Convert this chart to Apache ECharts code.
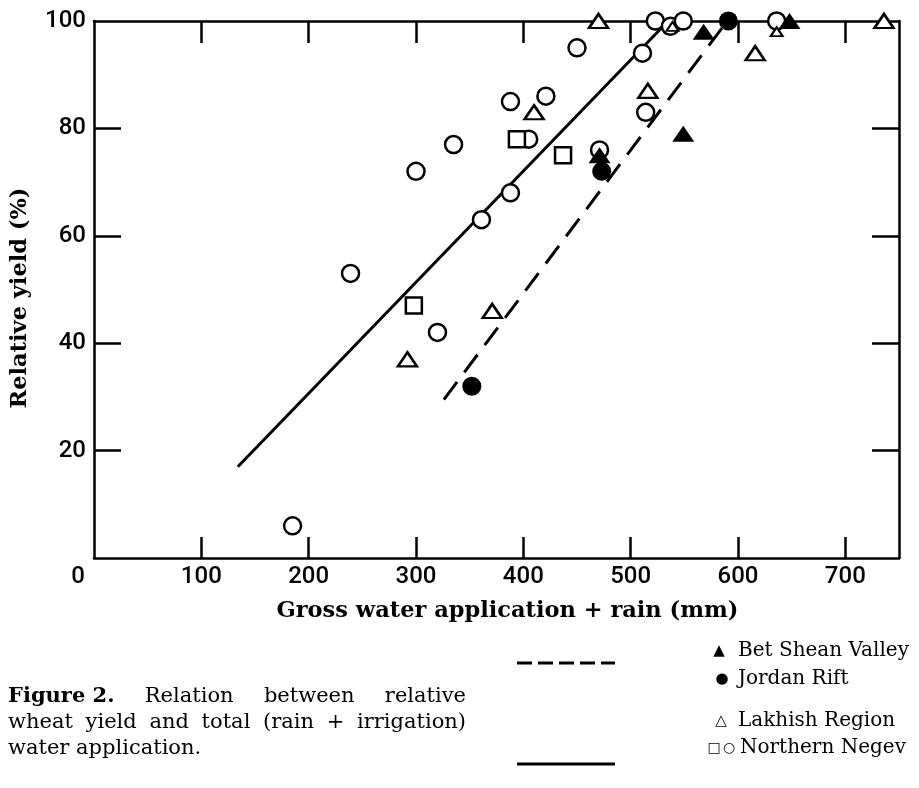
<!DOCTYPE html>
<html>
<head>
<meta charset="utf-8">
<script src="https://cdn.jsdelivr.net/npm/echarts@6/dist/echarts.min.js"></script>
<style>
    html, body { margin: 0; padding: 0; background: #fff; }
    #main { width: 919px; height: 788px; }
</style>
</head>
<body>
<div id="main"></div>
<script>
    // tick values
    var xLabels = [0, 100, 200, 300, 400, 500, 600, 700];
    var xTickVals = [100, 200, 300, 400, 500, 600, 700];
    var yLabels = [20, 40, 60, 80, 100];
    var yTickVals = [20, 40, 60, 80];

    // Bet Shean Valley (filled triangles)
    var betShean = [[471, 75], [549, 79], [568, 98], [648, 100]];
    // Jordan Rift (filled circles)
    var jordanRift = [[352, 32], [473, 72], [591, 100]];
    // Lakhish Region (open triangles)
    var lakhish = [[292, 37], [371, 46], [410, 83], [470, 100], [516, 87], [616, 94], [736, 100]];
    // small Lakhish triangles drawn inside circles
    var lakhishInner = [[539, 99], [636, 98]];
    // Northern Negev (open squares and circles)
    var negevSquares = [[298, 47], [394, 78], [437, 75]];
    var negevCircles = [[185, 6], [239, 53], [300, 72], [320, 42], [335, 77], [361, 63], [388, 68],
        [388, 85], [405, 78], [421, 86], [450, 95], [471, 76], [511, 94], [514, 83],
        [523, 100], [537, 99], [549, 100], [636, 100]];

    // regression lines
    var dashedLine = [[326, 29.5], [590, 100]];   // Bet Shean + Jordan Rift
    var solidLine = [[134, 17], [535, 100]];      // Lakhish + Northern Negev

    var black = '#000';
    var labelFont = {fontFamily: 'Roboto', fontSize: 24, fontWeight: 500, color: black};
    var capFont = '21px DejaVu Serif';

    // lay words of a justified caption line out between x0 and x1
    function justify(words, fonts, x0, x1, y) {
        var ctx = document.createElement('canvas').getContext('2d');
        var widths = words.map(function (w, i) {
            ctx.font = fonts[i];
            return ctx.measureText(w).width;
        });
        var total = widths.reduce(function (a, b) { return a + b; }, 0);
        var gap = (x1 - x0 - total) / (words.length - 1);
        var x = x0;
        return words.map(function (w, i) {
            var el = {type: 'text', style: {text: w, x: x, y: y, font: fonts[i], fill: black, textVerticalAlign: 'middle'}};
            x += widths[i] + gap;
            return el;
        });
    }

    var line1 = ['Figure 2.', 'Relation', 'between', 'relative'];
    var line2 = ['wheat', 'yield', 'and', 'total', '(rain', '+', 'irrigation)'];

    var chart = echarts.init(document.getElementById('main'));

    var axisLine = {show: true, onZero: false, lineStyle: {color: black, width: 2.5}};

    chart.setOption({
        backgroundColor: '#fff',
        animation: false,
        grid: {left: 94, right: 20, top: 21, bottom: 230},
        xAxis: [
            {
                type: 'value', position: 'bottom', min: 0, max: 750, interval: 100,
                name: 'Gross water application + rain (mm)',
                nameLocation: 'middle', nameGap: 42,
                nameTextStyle: {fontFamily: 'DejaVu Serif', fontWeight: 'bold', fontSize: 22.5, color: black, padding: [0, 0, 0, 22]},
                axisLine: axisLine,
                axisTick: {show: true, inside: true, length: 21, lineStyle: {color: black, width: 2.5}, customValues: xTickVals},
                axisLabel: Object.assign({
                    margin: 7,
                    customValues: xLabels,
                    formatter: function (v) { return v === 0 ? '{o|0}' : String(v); },
                    rich: {o: {fontFamily: 'Roboto', fontSize: 24, fontWeight: 500, color: black, padding: [0, 32, 0, 0]}}
                }, labelFont),
                splitLine: {show: false}
            },
            {
                type: 'value', position: 'top', min: 0, max: 750, interval: 100,
                axisLine: axisLine,
                axisTick: {show: true, inside: true, length: 22, lineStyle: {color: black, width: 2.5}, customValues: xTickVals},
                axisLabel: {show: false},
                splitLine: {show: false}
            }
        ],
        yAxis: [
            {
                type: 'value', position: 'left', min: 0, max: 100, interval: 20,
                name: 'Relative yield (%)',
                nameLocation: 'middle', nameGap: 62,
                nameTextStyle: {fontFamily: 'DejaVu Serif', fontWeight: 'bold', fontSize: 22.5, color: black, padding: [0, 17, 0, 0]},
                axisLine: axisLine,
                axisTick: {show: true, inside: true, length: 27, lineStyle: {color: black, width: 2.5}, customValues: yTickVals},
                axisLabel: Object.assign({margin: 8, customValues: yLabels}, labelFont),
                splitLine: {show: false}
            },
            {
                type: 'value', position: 'right', min: 0, max: 100, interval: 20,
                axisLine: axisLine,
                axisTick: {show: true, inside: true, length: 27, lineStyle: {color: black, width: 2.5}, customValues: yTickVals},
                axisLabel: {show: false},
                splitLine: {show: false}
            }
        ],
        series: [
            {
                name: 'Bet Shean / Jordan Rift fit', type: 'line', data: dashedLine,
                symbol: 'none', lineStyle: {color: black, width: 3, type: [22, 12]}, z: 2
            },
            {
                name: 'Lakhish / Negev fit', type: 'line', data: solidLine,
                symbol: 'none', lineStyle: {color: black, width: 3}, z: 2
            },
            {
                name: 'Northern Negev', type: 'scatter', data: negevCircles, clip: false,
                symbol: 'circle', symbolSize: 17,
                itemStyle: {color: '#fff', borderColor: black, borderWidth: 2.5, opacity: 1}, z: 3
            },
            {
                name: 'Northern Negev squares', type: 'scatter', data: negevSquares, clip: false,
                symbol: 'rect', symbolSize: 16,
                itemStyle: {color: '#fff', borderColor: black, borderWidth: 2.5, opacity: 1}, z: 4
            },
            {
                name: 'Lakhish Region', type: 'scatter', data: lakhish, clip: false,
                symbol: 'triangle', symbolSize: [19, 14],
                itemStyle: {color: '#fff', borderColor: black, borderWidth: 2.5, opacity: 1}, z: 5
            },
            {
                name: 'Lakhish Region inner', type: 'scatter', data: lakhishInner, clip: false,
                symbol: 'triangle', symbolSize: [12, 9],
                itemStyle: {color: '#fff', borderColor: black, borderWidth: 2, opacity: 1}, z: 6
            },
            {
                name: 'Jordan Rift', type: 'scatter', data: jordanRift, clip: false,
                symbol: 'circle', symbolSize: 19,
                itemStyle: {color: black, opacity: 1}, z: 7
            },
            {
                name: 'Bet Shean Valley', type: 'scatter', data: betShean, clip: false,
                symbol: 'triangle', symbolSize: [22, 16],
                itemStyle: {color: black, opacity: 1}, z: 8
            }
        ],
        graphic: [
            // legend line samples
            {type: 'line', shape: {x1: 517, y1: 663, x2: 615, y2: 663}, style: {stroke: black, lineWidth: 3, lineDash: [15, 6]}},
            {type: 'line', shape: {x1: 517, y1: 764, x2: 615, y2: 764}, style: {stroke: black, lineWidth: 3}},
            // legend entries
            {type: 'text', style: {text: '▲', x: 719, y: 651, font: '15px DejaVu Sans', fill: black, textAlign: 'center', textVerticalAlign: 'middle'}},
            {type: 'text', style: {text: 'Bet Shean Valley', x: 738, y: 651, font: '20px DejaVu Serif', fill: black, textVerticalAlign: 'middle'}},
            {type: 'text', style: {text: '●', x: 722, y: 679, font: '15px DejaVu Sans', fill: black, textAlign: 'center', textVerticalAlign: 'middle'}},
            {type: 'text', style: {text: 'Jordan Rift', x: 738, y: 679, font: '20px DejaVu Serif', fill: black, textVerticalAlign: 'middle'}},
            {type: 'text', style: {text: '△', x: 721, y: 721, font: '15px DejaVu Sans', fill: black, textAlign: 'center', textVerticalAlign: 'middle'}},
            {type: 'text', style: {text: 'Lakhish Region', x: 738, y: 721, font: '20px DejaVu Serif', fill: black, textVerticalAlign: 'middle'}},
            {type: 'text', style: {text: '□', x: 714, y: 748, font: '14px DejaVu Sans', fill: black, textAlign: 'center', textVerticalAlign: 'middle'}},
            {type: 'text', style: {text: '○', x: 729, y: 748, font: '14px DejaVu Sans', fill: black, textAlign: 'center', textVerticalAlign: 'middle'}},
            {type: 'text', style: {text: 'Northern Negev', x: 740, y: 748, font: '20px DejaVu Serif', fill: black, textVerticalAlign: 'middle'}},
            // caption
            {type: 'text', style: {text: 'water application.', x: 8, y: 749, font: capFont, fill: black, textVerticalAlign: 'middle'}}
        ].concat(
            justify(line1, ['bold ' + capFont, capFont, capFont, capFont], 8, 466, 697),
            justify(line2, line2.map(function () { return capFont; }), 8, 466, 723)
        )
    });
</script>
</body>
</html>
